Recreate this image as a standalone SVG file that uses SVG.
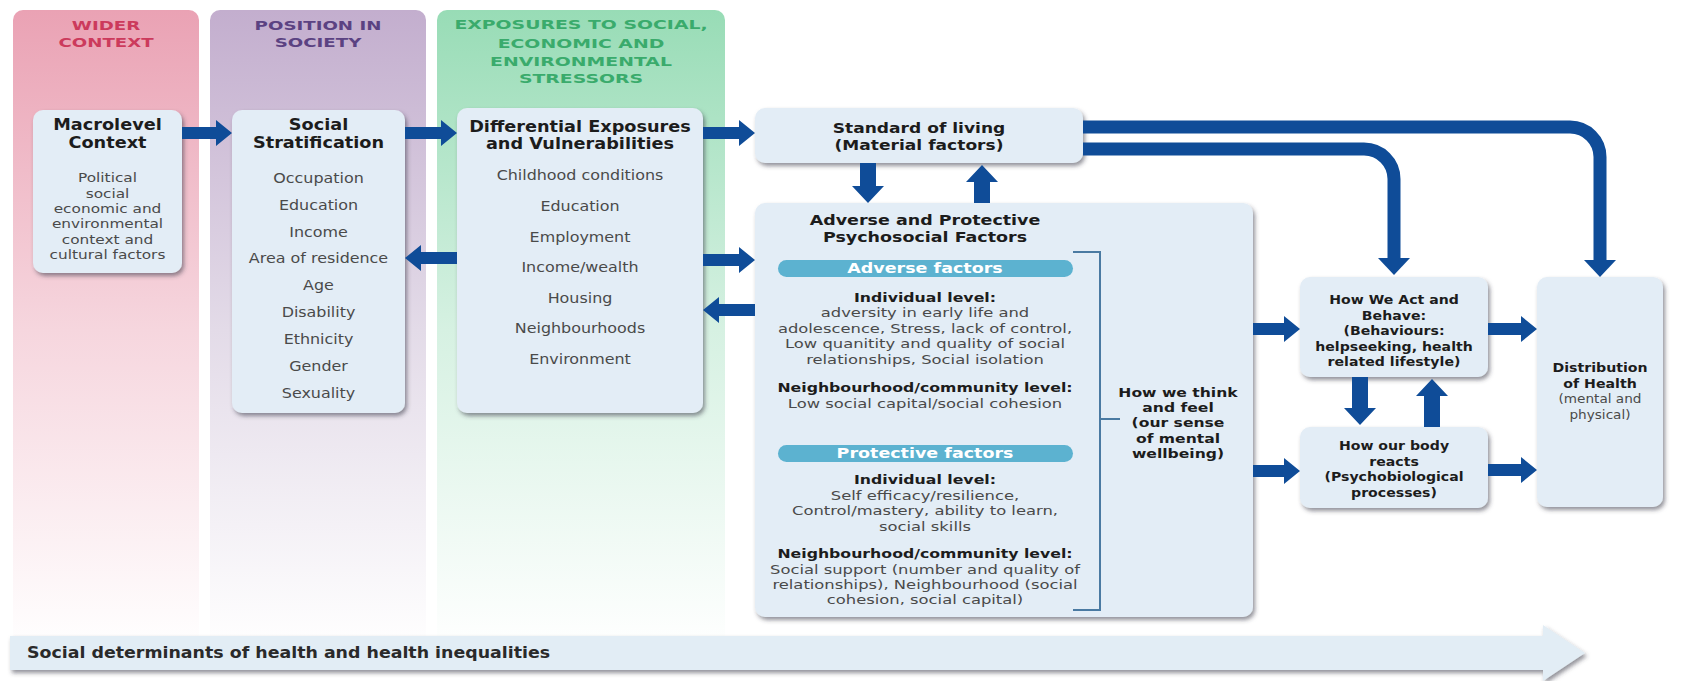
<svg xmlns="http://www.w3.org/2000/svg" width="1704" height="681" viewBox="0 0 1704 681">
<defs>
<linearGradient id="gPink" x1="0" y1="0" x2="0" y2="1">
<stop offset="0" stop-color="#eaa2b4"/><stop offset="0.5" stop-color="#f6d6de"/><stop offset="1" stop-color="#ffffff"/>
</linearGradient>
<linearGradient id="gPurple" x1="0" y1="0" x2="0" y2="1">
<stop offset="0" stop-color="#c3aece"/><stop offset="0.5" stop-color="#e3dbe8"/><stop offset="1" stop-color="#ffffff"/>
</linearGradient>
<linearGradient id="gGreen" x1="0" y1="0" x2="0" y2="1">
<stop offset="0" stop-color="#98dcb6"/><stop offset="0.5" stop-color="#d6f1e2"/><stop offset="1" stop-color="#ffffff"/>
</linearGradient>
<filter id="sh" x="-10%" y="-10%" width="125%" height="130%">
<feDropShadow dx="2" dy="3" stdDeviation="2" flood-color="#3a3a4a" flood-opacity="0.55"/>
</filter>
<style>
.node{fill:#e3edf6;filter:url(#sh)}
.t{font-family:"DejaVu Sans",Verdana,sans-serif;text-anchor:middle;fill:#1c1c1c;font-weight:bold}
.b{font-family:"DejaVu Sans",Verdana,sans-serif;text-anchor:middle;fill:#4a4a4a}
.hd{font-family:"DejaVu Sans",Verdana,sans-serif;text-anchor:middle;font-weight:bold;font-size:13px}
.arr{fill:#0f4c98}
.ln{fill:none;stroke:#0f4c98;stroke-width:13}
.pill{fill:#5cb2d0}
.pt{font-family:"DejaVu Sans",Verdana,sans-serif;text-anchor:middle;font-weight:bold;font-size:14px;fill:#ffffff}
.br{fill:none;stroke:#4a7aa2;stroke-width:2}
</style>
</defs>
<rect width="1704" height="681" fill="#ffffff"/>

<g id="columns">
<rect x="13" y="10" width="186" height="640" rx="10" fill="url(#gPink)"/>
<rect x="210" y="10" width="216" height="640" rx="10" fill="url(#gPurple)"/>
<rect x="437" y="10" width="288" height="640" rx="10" fill="url(#gGreen)"/>
<g transform="translate(106,0) scale(1.4,1)">
<text class="hd" x="0" y="30" fill="#cc3a5c">WIDER</text>
<text class="hd" x="0" y="47" fill="#cc3a5c">CONTEXT</text>
</g>
<g transform="translate(318,0) scale(1.4,1)">
<text class="hd" x="0" y="30" fill="#5b4282">POSITION IN</text>
<text class="hd" x="0" y="47" fill="#5b4282">SOCIETY</text>
</g>
<g transform="translate(581,0) scale(1.45,1)">
<text class="hd" x="0" y="29" fill="#3aab6c">EXPOSURES TO SOCIAL,</text>
<text class="hd" x="0" y="48" fill="#3aab6c">ECONOMIC AND</text>
<text class="hd" x="0" y="66" fill="#3aab6c">ENVIRONMENTAL</text>
<text class="hd" x="0" y="83" fill="#3aab6c">STRESSORS</text>
</g>
</g>

<g id="node-macro">
<rect class="node" x="33" y="110" width="149" height="163" rx="10"/>
<g transform="translate(107.5,0) scale(1.18,1)">
<text class="t" x="0" y="130" font-size="15">Macrolevel</text>
<text class="t" x="0" y="148" font-size="15">Context</text>
<text class="b" x="0" y="182" font-size="13">Political</text>
<text class="b" x="0" y="198" font-size="13">social</text>
<text class="b" x="0" y="213" font-size="13">economic and</text>
<text class="b" x="0" y="228" font-size="13">environmental</text>
<text class="b" x="0" y="244" font-size="13">context and</text>
<text class="b" x="0" y="259" font-size="13">cultural factors</text>
</g>
</g>

<g id="node-strat">
<rect class="node" x="232" y="110" width="173" height="303" rx="10"/>
<g transform="translate(318.5,0) scale(1.18,1)">
<text class="t" x="0" y="130" font-size="15">Social</text>
<text class="t" x="0" y="148" font-size="15">Stratification</text>
<text class="b" x="0" y="183" font-size="13.5">Occupation</text>
<text class="b" x="0" y="210" font-size="13.5">Education</text>
<text class="b" x="0" y="237" font-size="13.5">Income</text>
<text class="b" x="0" y="263" font-size="13.5">Area of residence</text>
<text class="b" x="0" y="290" font-size="13.5">Age</text>
<text class="b" x="0" y="317" font-size="13.5">Disability</text>
<text class="b" x="0" y="344" font-size="13.5">Ethnicity</text>
<text class="b" x="0" y="371" font-size="13.5">Gender</text>
<text class="b" x="0" y="398" font-size="13.5">Sexuality</text>
</g>
</g>

<g id="node-exposures">
<rect class="node" x="457" y="108" width="246" height="305" rx="10"/>
<g transform="translate(580,0) scale(1.18,1)">
<text class="t" x="0" y="132" font-size="15">Differential Exposures</text>
<text class="t" x="0" y="149" font-size="15">and Vulnerabilities</text>
<text class="b" x="0" y="180" font-size="13.5">Childhood conditions</text>
<text class="b" x="0" y="211" font-size="13.5">Education</text>
<text class="b" x="0" y="242" font-size="13.5">Employment</text>
<text class="b" x="0" y="272" font-size="13.5">Income/wealth</text>
<text class="b" x="0" y="303" font-size="13.5">Housing</text>
<text class="b" x="0" y="333" font-size="13.5">Neighbourhoods</text>
<text class="b" x="0" y="364" font-size="13.5">Environment</text>
</g>
</g>

<g id="node-standard">
<rect class="node" x="755" y="108" width="328" height="55" rx="10"/>
<g transform="translate(919,0) scale(1.22,1)">
<text class="t" x="0" y="133" font-size="14">Standard of living</text>
<text class="t" x="0" y="150" font-size="14">(Material factors)</text>
</g>
</g>

<g id="node-psychosocial">
<rect class="node" x="755" y="203" width="498" height="414" rx="10"/>
<g transform="translate(925,0) scale(1.25,1)">
<text class="t" x="0" y="225" font-size="14">Adverse and Protective</text>
<text class="t" x="0" y="242" font-size="14">Psychosocial Factors</text>
</g>
<rect class="pill" x="778" y="260" width="295" height="17" rx="8.5"/>
<rect class="pill" x="778" y="445" width="295" height="17" rx="8.5"/>
<g transform="translate(925,0) scale(1.25,1)">
<text class="pt" x="0" y="273.5">Adverse factors</text>
<text class="pt" x="0" y="458.5">Protective factors</text>
</g>
<g transform="translate(925,0) scale(1.26,1)">
<text class="t" x="0" y="302" font-size="12.5">Individual level:</text>
<text class="b" x="0" y="317" font-size="13">adversity in early life and</text>
<text class="b" x="0" y="333" font-size="13">adolescence, Stress, lack of control,</text>
<text class="b" x="0" y="348" font-size="13">Low quanitity and quality of social</text>
<text class="b" x="0" y="364" font-size="13">relationships, Social isolation</text>
<text class="t" x="0" y="392" font-size="12.5">Neighbourhood/community level:</text>
<text class="b" x="0" y="408" font-size="13">Low social capital/social cohesion</text>
<text class="t" x="0" y="484" font-size="12.5">Individual level:</text>
<text class="b" x="0" y="500" font-size="13">Self efficacy/resilience,</text>
<text class="b" x="0" y="515" font-size="13">Control/mastery, ability to learn,</text>
<text class="b" x="0" y="531" font-size="13">social skills</text>
<text class="t" x="0" y="558" font-size="12.5">Neighbourhood/community level:</text>
<text class="b" x="0" y="574" font-size="13">Social support (number and quality of</text>
<text class="b" x="0" y="589" font-size="13">relationships), Neighbourhood (social</text>
<text class="b" x="0" y="604" font-size="13">cohesion, social capital)</text>
</g>
<path class="br" d="M1073,252 H1100 V610 H1073 M1100,419 H1120"/>
<g transform="translate(1178,0) scale(1.2,1)">
<text class="t" x="0" y="397" font-size="13">How we think</text>
<text class="t" x="0" y="412" font-size="13">and feel</text>
<text class="t" x="0" y="427" font-size="13">(our sense</text>
<text class="t" x="0" y="443" font-size="13">of mental</text>
<text class="t" x="0" y="458" font-size="13">wellbeing)</text>
</g>
</g>

<g id="node-behave">
<rect class="node" x="1300" y="277" width="188" height="100" rx="10"/>
<g transform="translate(1394,0) scale(1.13,1)">
<text class="t" x="0" y="304" font-size="12.5">How We Act and</text>
<text class="t" x="0" y="320" font-size="12.5">Behave:</text>
<text class="t" x="0" y="335" font-size="12.5">(Behaviours:</text>
<text class="t" x="0" y="351" font-size="12.5">helpseeking, health</text>
<text class="t" x="0" y="366" font-size="12.5">related lifestyle)</text>
</g>
</g>

<g id="node-body">
<rect class="node" x="1300" y="427" width="188" height="81" rx="10"/>
<g transform="translate(1394,0) scale(1.13,1)">
<text class="t" x="0" y="450" font-size="12.5">How our body</text>
<text class="t" x="0" y="466" font-size="12.5">reacts</text>
<text class="t" x="0" y="481" font-size="12.5">(Psychobiological</text>
<text class="t" x="0" y="497" font-size="12.5">processes)</text>
</g>
</g>

<g id="node-distribution">
<rect class="node" x="1537" y="277" width="126" height="230" rx="10"/>
<g transform="translate(1600,0) scale(1.09,1)">
<text class="t" x="0" y="372" font-size="13">Distribution</text>
<text class="t" x="0" y="388" font-size="13">of Health</text>
<text class="b" x="0" y="403" font-size="12.5">(mental and</text>
<text class="b" x="0" y="419" font-size="12.5">physical)</text>
</g>
</g>

<g id="connectors">
<path class="arr" d="M182,127 H216 V120 L232,133 L216,146 V139 H182 Z"/>
<path class="arr" d="M405,127 H441 V120 L457,133 L441,146 V139 H405 Z"/>
<path class="arr" d="M703,127 H739 V120 L755,133 L739,146 V139 H703 Z"/>
<path class="arr" d="M457,252 H421 V245 L405,258 L421,271 V264 H457 Z"/>
<path class="arr" d="M703,254 H739 V247 L755,260 L739,273 V266 H703 Z"/>
<path class="arr" d="M755,304 H719 V297 L703,310 L719,323 V316 H755 Z"/>
<path class="arr" d="M1253,323 H1284 V316 L1300,329 L1284,342 V335 H1253 Z"/>
<path class="arr" d="M1253,465 H1284 V458 L1300,471 L1284,484 V477 H1253 Z"/>
<path class="arr" d="M1488,323 H1521 V316 L1537,329 L1521,342 V335 H1488 Z"/>
<path class="arr" d="M1488,464 H1521 V457 L1537,470 L1521,483 V476 H1488 Z"/>
<path class="arr" d="M860,163 V186 H852 L868,203 L884,186 H876 V163 Z"/>
<path class="arr" d="M974,203 V182 H966 L982,165 L998,182 H990 V203 Z"/>
<path class="arr" d="M1352,377 V408 H1344 L1360,425 L1376,408 H1368 V377 Z"/>
<path class="arr" d="M1424,427 V396 H1416 L1432,379 L1448,396 H1440 V427 Z"/>
<path class="ln" d="M1083,127 H1570 A30,30 0 0 1 1600,157 V262"/>
<path class="arr" d="M1584,260 L1600,277 L1616,260 Z"/>
<path class="ln" d="M1083,149 H1364 A30,30 0 0 1 1394,179 V260"/>
<path class="arr" d="M1378,258 L1394,275 L1410,258 Z"/>
</g>

<g id="bottom-arrow">
<path d="M10,636 H1543 V625 L1585,653 L1543,681 V670 H10 Z" fill="#e2edf5" filter="url(#sh)"/>
<g transform="translate(27,0) scale(1.16,1)">
<text x="0" y="658" font-family="DejaVu Sans, Verdana, sans-serif" font-weight="bold" font-size="15" fill="#2a2a2a">Social determinants of health and health inequalities</text>
</g>
</g>
</svg>
